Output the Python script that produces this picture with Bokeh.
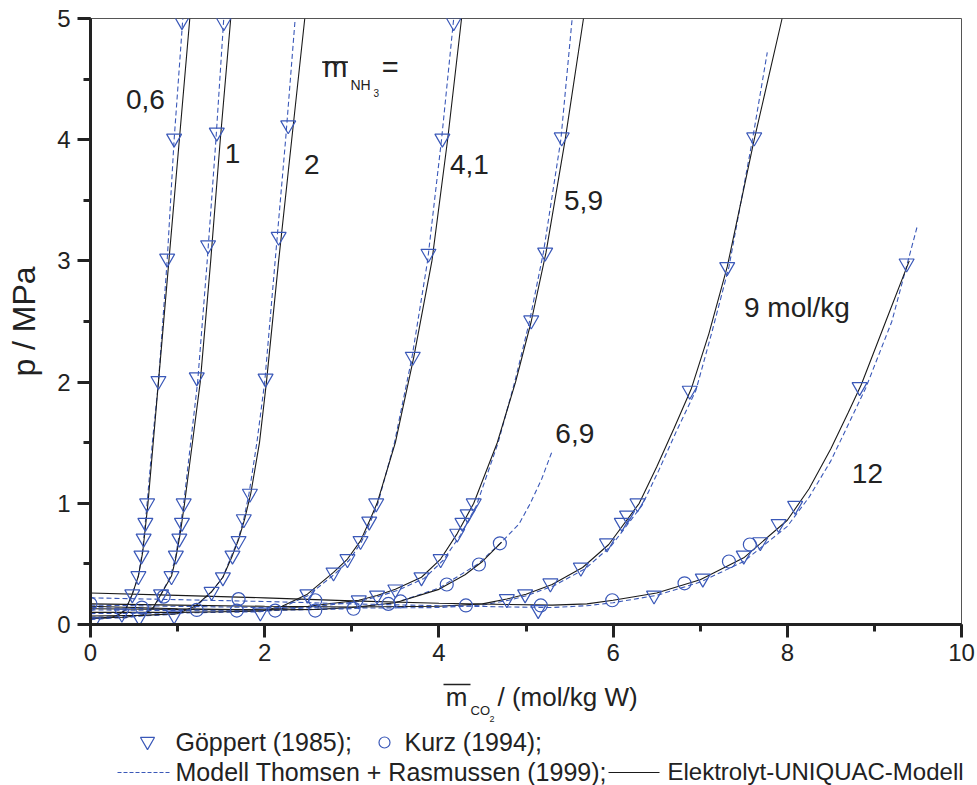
from bokeh.plotting import figure
from bokeh.layouts import column
from bokeh.models import Range1d, SingleIntervalTicker, Label
from bokeh.embed import file_html
from bokeh.resources import INLINE

# ---------------- data ----------------
# Göppert (1985) measurements, per NH3 molality
goep_06_x = [0.03, 0.36, 0.48, 0.55, 0.585, 0.61, 0.63, 0.65, 0.78, 0.88, 0.96, 1.05]
goep_06_y = [0.02, 0.09, 0.25, 0.40, 0.57, 0.71, 0.84, 1.00, 2.01, 3.02, 4.01, 4.98]
goep_1_x = [0.56, 0.81, 0.93, 0.98, 1.02, 1.05, 1.07, 1.22, 1.35, 1.45, 1.53]
goep_1_y = [0.06, 0.25, 0.40, 0.57, 0.71, 0.84, 1.00, 2.04, 3.13, 4.06, 4.97]
goep_2_x = [0.96, 1.39, 1.52, 1.63, 1.70, 1.76, 1.83, 2.01, 2.16, 2.27]
goep_2_y = [0.075, 0.27, 0.39, 0.57, 0.69, 0.87, 1.08, 2.03, 3.20, 4.12]
goep_41_x = [1.95, 2.49, 2.79, 2.95, 3.10, 3.20, 3.28, 3.70, 3.88, 4.04, 4.17]
goep_41_y = [0.10, 0.25, 0.43, 0.54, 0.69, 0.85, 1.00, 2.21, 3.06, 4.01, 4.97]
goep_59_x = [3.08, 3.29, 3.50, 3.80, 4.02, 4.21, 4.27, 4.33, 4.40, 5.06, 5.22, 5.41]
goep_59_y = [0.20, 0.24, 0.29, 0.39, 0.54, 0.75, 0.84, 0.91, 1.00, 2.51, 3.07, 4.02]
goep_9_x = [4.78, 4.99, 5.28, 5.63, 5.93, 6.10, 6.16, 6.28, 6.88, 7.31, 7.62]
goep_9_y = [0.21, 0.25, 0.34, 0.47, 0.67, 0.84, 0.90, 1.00, 1.93, 2.95, 4.02]
goep_12_x = [5.14, 6.47, 7.03, 7.50, 7.69, 7.90, 8.09, 8.83, 9.37]
goep_12_y = [0.12, 0.24, 0.38, 0.57, 0.68, 0.83, 0.98, 1.96, 2.98]

# Kurz (1994) measurements
kurz_69_x = [0.0, 0.59, 1.22, 1.68, 2.12, 2.58, 3.02, 3.42, 3.56, 4.09, 4.46, 4.70]
kurz_69_y = [0.17, 0.14, 0.12, 0.115, 0.115, 0.115, 0.13, 0.17, 0.19, 0.33, 0.495, 0.67]
kurz_12_x = [0.84, 1.70, 2.58, 4.31, 5.17, 5.99, 6.82, 7.33, 7.57]
kurz_12_y = [0.23, 0.21, 0.20, 0.157, 0.157, 0.20, 0.34, 0.52, 0.66]

# Elektrolyt-UNIQUAC-Modell (solid)
uq_06_x = [0, 0.2, 0.3, 0.4, 0.48, 0.55, 0.60, 0.66, 0.72, 0.78, 0.90, 1.02, 1.14]
uq_06_y = [0.05, 0.055, 0.07, 0.12, 0.25, 0.40, 0.60, 1.0, 1.5, 2.0, 3.0, 4.0, 5.0]
uq_1_x = [0, 0.4, 0.6, 0.72, 0.81, 0.93, 0.98, 1.03, 1.08, 1.17, 1.26, 1.38, 1.49, 1.61]
uq_1_y = [0.055, 0.06, 0.08, 0.14, 0.25, 0.40, 0.55, 0.75, 1.0, 1.5, 2.0, 3.0, 4.0, 5.0]
uq_2_x = [0, 0.6, 1.0, 1.2, 1.39, 1.52, 1.63, 1.70, 1.77, 1.84, 1.94, 2.02, 2.16, 2.31, 2.46]
uq_2_y = [0.07, 0.075, 0.09, 0.15, 0.27, 0.39, 0.57, 0.70, 0.87, 1.08, 1.5, 2.0, 3.0, 4.0, 5.0]
uq_41_x = [0, 1.0, 1.95, 2.2, 2.49, 2.79, 2.95, 3.10, 3.20, 3.29, 3.50, 3.71, 3.92, 4.10, 4.26]
uq_41_y = [0.10, 0.10, 0.11, 0.15, 0.25, 0.43, 0.54, 0.69, 0.85, 1.0, 1.5, 2.2, 3.0, 4.0, 5.0]
uq_59_x = [0, 1.0, 2.0, 2.5, 3.08, 3.29, 3.50, 3.80, 4.02, 4.21, 4.40, 4.67, 4.88, 5.06, 5.23, 5.45, 5.66]
uq_59_y = [0.13, 0.125, 0.12, 0.15, 0.20, 0.24, 0.29, 0.39, 0.54, 0.75, 1.0, 1.5, 2.0, 2.5, 3.07, 4.0, 5.0]
uq_69_x = [0, 1, 2, 2.6, 3.0, 3.5, 4.0, 4.3, 4.5, 4.72]
uq_69_y = [0.15, 0.13, 0.12, 0.125, 0.14, 0.18, 0.29, 0.41, 0.52, 0.68]
uq_9_x = [0, 1, 2, 3, 4.0, 4.5, 4.78, 5.0, 5.3, 5.65, 5.95, 6.30, 6.50, 6.70, 6.90, 7.10, 7.31, 7.62, 7.94]
uq_9_y = [0.17, 0.16, 0.15, 0.145, 0.15, 0.17, 0.21, 0.25, 0.33, 0.47, 0.66, 1.0, 1.3, 1.62, 1.95, 2.4, 2.95, 4.0, 5.0]
uq_12_x = [0, 1, 2, 3, 4, 4.8, 5.3, 5.7, 6.0, 6.5, 7.0, 7.5, 8.0, 8.25, 8.5, 8.7, 8.85, 9.13, 9.40]
uq_12_y = [0.26, 0.24, 0.22, 0.195, 0.175, 0.165, 0.16, 0.17, 0.20, 0.26, 0.37, 0.55, 0.86, 1.12, 1.45, 1.75, 1.98, 2.5, 3.0]

# Modell Thomsen + Rasmussen (1999) (dashed)
tr_06_x = [0, 0.2, 0.3, 0.4, 0.48, 0.55, 0.6, 0.65, 0.71, 0.78, 0.88, 0.96, 1.06]
tr_06_y = [0.04, 0.05, 0.065, 0.12, 0.25, 0.40, 0.62, 1.0, 1.5, 2.0, 3.0, 4.0, 5.0]
tr_1_x = [0, 0.4, 0.6, 0.72, 0.81, 0.92, 0.98, 1.02, 1.07, 1.15, 1.23, 1.34, 1.44, 1.53]
tr_1_y = [0.05, 0.055, 0.075, 0.13, 0.25, 0.40, 0.57, 0.75, 1.0, 1.5, 2.0, 3.0, 4.0, 5.0]
tr_2_x = [0, 0.6, 1.0, 1.2, 1.39, 1.52, 1.62, 1.69, 1.76, 1.82, 1.91, 2.00, 2.12, 2.24, 2.35]
tr_2_y = [0.06, 0.07, 0.085, 0.14, 0.27, 0.39, 0.57, 0.69, 0.87, 1.08, 1.5, 2.0, 3.0, 4.0, 5.0]
tr_41_x = [0, 1.0, 1.95, 2.2, 2.50, 2.81, 2.97, 3.11, 3.21, 3.30, 3.49, 3.69, 3.87, 4.03, 4.17]
tr_41_y = [0.09, 0.095, 0.105, 0.14, 0.24, 0.42, 0.53, 0.68, 0.84, 1.0, 1.5, 2.2, 3.0, 4.0, 5.0]
tr_59_x = [0, 1, 2, 2.5, 3.08, 3.3, 3.52, 3.83, 4.05, 4.25, 4.43, 4.68, 4.87, 5.04, 5.20, 5.40, 5.53]
tr_59_y = [0.12, 0.115, 0.11, 0.14, 0.19, 0.23, 0.28, 0.38, 0.53, 0.74, 0.98, 1.5, 2.0, 2.5, 3.07, 4.0, 5.0]
tr_69_x = [0, 1, 2, 3, 3.5, 4.0, 4.45, 4.72, 4.92, 5.05, 5.18, 5.30]
tr_69_y = [0.14, 0.125, 0.115, 0.13, 0.18, 0.30, 0.50, 0.68, 0.83, 1.0, 1.2, 1.43]
tr_9_x = [0, 1, 2, 3, 4.0, 4.5, 4.8, 5.02, 5.32, 5.68, 5.98, 6.33, 6.53, 6.73, 6.95, 7.13, 7.33, 7.60, 7.77]
tr_9_y = [0.16, 0.15, 0.14, 0.135, 0.14, 0.16, 0.20, 0.24, 0.32, 0.46, 0.65, 0.98, 1.28, 1.60, 1.93, 2.4, 2.95, 4.0, 4.72]
tr_12_x = [0, 1, 2, 3, 4, 4.8, 5.3, 5.7, 6.0, 6.5, 7.0, 7.5, 8.0, 8.25, 8.5, 8.7, 8.9, 9.2, 9.49]
tr_12_y = [0.22, 0.205, 0.19, 0.17, 0.155, 0.145, 0.14, 0.155, 0.18, 0.24, 0.35, 0.52, 0.81, 1.05, 1.35, 1.65, 1.95, 2.5, 3.28]

# curve labels (text, x, vertical centre y)
curve_labels = ["0,6", "1", "2", "4,1", "5,9", "9 mol/kg", "6,9", "12"]
curve_label_x = [0.63, 1.63, 2.54, 4.35, 5.66, 8.11, 5.56, 8.92]
curve_label_y = [4.332, 3.886, 3.795, 3.795, 3.498, 2.615, 1.576, 1.246]

# legend texts
leg_goep = "G\u00f6ppert (1985);"
leg_kurz = "Kurz (1994);"
leg_tr = "Modell Thomsen + Rasmussen (1999);"
leg_uq = "Elektrolyt-UNIQUAC-Modell"

BLUE = "#3a58b8"
BLACK = "#1a1a1a"
TXT = "#222222"
FONT = "Liberation Sans"

# ---------------- main plot ----------------
p = figure(width=977, height=675, x_range=Range1d(0, 10), y_range=Range1d(0, 5),
           output_backend="svg", toolbar_location=None,
           min_border_left=90, min_border_right=16, min_border_top=18, min_border_bottom=51)
p.grid.visible = False
p.outline_line_color = "#555555"
p.outline_line_width = 1

p.xaxis.ticker = SingleIntervalTicker(interval=2, num_minor_ticks=2)
p.yaxis.ticker = SingleIntervalTicker(interval=1, num_minor_ticks=2)
for ax in (p.xaxis, p.yaxis):
    ax.axis_line_width = 3
    ax.axis_line_color = TXT
    ax.major_tick_line_width = 3
    ax.minor_tick_line_width = 3
    ax.major_tick_line_color = TXT
    ax.minor_tick_line_color = TXT
    ax.major_tick_in = 0
    ax.major_tick_out = 13
    ax.minor_tick_in = 0
    ax.minor_tick_out = 7
    ax.major_label_text_font = FONT
    ax.major_label_text_font_size = "24px"
    ax.major_label_text_color = TXT
p.xaxis.major_label_standoff = 6
p.yaxis.major_label_standoff = 7
p.yaxis.axis_label = "p / MPa"
p.yaxis.axis_label_text_font = FONT
p.yaxis.axis_label_text_font_size = "32px"
p.yaxis.axis_label_text_font_style = "normal"
p.yaxis.axis_label_text_color = TXT
p.yaxis.axis_label_standoff = 12

series = [
    (uq_06_x, uq_06_y, tr_06_x, tr_06_y),
    (uq_1_x, uq_1_y, tr_1_x, tr_1_y),
    (uq_2_x, uq_2_y, tr_2_x, tr_2_y),
    (uq_41_x, uq_41_y, tr_41_x, tr_41_y),
    (uq_59_x, uq_59_y, tr_59_x, tr_59_y),
    (uq_69_x, uq_69_y, tr_69_x, tr_69_y),
    (uq_9_x, uq_9_y, tr_9_x, tr_9_y),
    (uq_12_x, uq_12_y, tr_12_x, tr_12_y),
]
for ux, uy, tx, ty in series:
    p.line(tx, ty, line_color=BLUE, line_width=1.1, line_dash="5 3")
    p.line(ux, uy, line_color=BLACK, line_width=1.1)

for gx, gy in [(goep_06_x, goep_06_y), (goep_1_x, goep_1_y), (goep_2_x, goep_2_y),
               (goep_41_x, goep_41_y), (goep_59_x, goep_59_y), (goep_9_x, goep_9_y),
               (goep_12_x, goep_12_y)]:
    p.scatter(gx, gy, marker="inverted_triangle", size=15, fill_color=None,
              line_color=BLUE, line_width=1.2)
for kx, ky in [(kurz_69_x, kurz_69_y), (kurz_12_x, kurz_12_y)]:
    p.scatter(kx, ky, marker="circle", size=13, fill_color=None,
              line_color=BLUE, line_width=1.2)


def lab(fig, text, x, y, size, color=TXT, align="center"):
    fig.add_layout(Label(x=x, y=y, text=text, text_font=FONT, text_font_size=size,
                         text_color=color, text_align=align, text_baseline="middle"))


for t, x, y in zip(curve_labels, curve_label_x, curve_label_y):
    lab(p, t, x, y, "28px")

# m(NH3) =
lab(p, "m", 2.81, 4.596, "29px")
p.segment(x0=[2.66], y0=[4.64], x1=[2.955], y1=[4.64], line_color=TXT, line_width=1.6)
lab(p, "NH", 2.985, 4.455, "14px", align="left")
lab(p, "3", 3.249, 4.389, "10px", align="left")
lab(p, "=", 3.345, 4.596, "29px", align="left")

# ---------------- bottom strip: x-axis title and legend (pixel coordinates) ----------------
q = figure(width=977, height=110, x_range=Range1d(0, 977), y_range=Range1d(110, 0),
           output_backend="svg", toolbar_location=None, x_axis_type=None, y_axis_type=None,
           min_border_left=0, min_border_right=0, min_border_top=0, min_border_bottom=0)
q.grid.visible = False
q.outline_line_color = None
aligned = True
try:
    p.frame_align = False
    q.frame_align = False
    aligned = False
except Exception:
    aligned = True
if aligned:
    q.x_range = Range1d(90, 961)

lab(q, "m", 456, 21, "26px")
q.segment(x0=[443], y0=[9], x1=[470], y1=[9], line_color=TXT, line_width=1.6)
lab(q, "CO", 470, 35, "13px", align="left")
lab(q, "2", 489, 43, "9px", align="left")
lab(q, "/ (mol/kg W)", 497, 21, "26px", align="left")

q.scatter([147], [66], marker="inverted_triangle", size=14, fill_color=None,
          line_color=BLUE, line_width=1.2)
lab(q, leg_goep, 175, 66, "25px", align="left")
q.scatter([384], [67], marker="circle", size=11, fill_color=None,
          line_color=BLUE, line_width=1.2)
lab(q, leg_kurz, 404, 66, "25px", align="left")

q.line([117, 170], [97, 97], line_color=BLUE, line_width=1.1, line_dash="4 2")
lab(q, leg_tr, 175, 96, "25px", align="left")
q.line([608, 659], [97, 97], line_color=BLACK, line_width=1.1)
lab(q, leg_uq, 667, 96, "24px", align="left")

layout = column(p, q, spacing=0)
open("out.html", "w").write(file_html(layout, INLINE))
